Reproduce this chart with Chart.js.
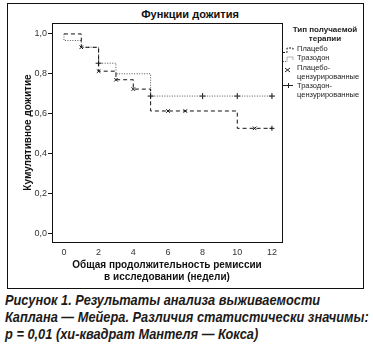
<!DOCTYPE html>
<html>
<head>
<meta charset="utf-8">
<script src="https://cdn.jsdelivr.net/npm/chart.js"></script>
<style>
body { margin: 0; background: white; font-family: "Liberation Sans", Arial, sans-serif; }
#frame {
  position: absolute; left: 7px; top: 3px; width: 357px; height: 286px;
  border: 1px solid #111; box-sizing: border-box;
}
#chart-box { position: absolute; left: 8px; top: 4px; width: 356px; height: 284px; }
#title {
  position: absolute; left: 136px; width: 108px; top: 8px; text-align: center;
  font-weight: bold; font-size: 11px; color: #111;
}
#legend { position: absolute; left: 283px; top: 25px; width: 80px; font-size: 7.5px; color: #222; }
#legend .head { text-align: center; font-weight: bold; font-size: 8px; line-height: 9px; margin-left: 4px; }
#legend .item { position: absolute; left: 14px; line-height: 8.5px; white-space: nowrap; }
#caption {
  position: absolute; left: 5px; top: 292px; width: 400px;
  font-weight: bold; font-style: italic; font-size: 14px; line-height: 17px; color: #1d1a18;
  white-space: nowrap; transform: scaleX(0.915); transform-origin: left top;
}
</style>
</head>
<body>
<div id="frame"></div>
<div id="title">Функции дожития</div>
<div id="chart-box"><canvas id="km"></canvas></div>
<div id="legend">
  <div class="head">Тип получаемой<br>терапии</div>
  <div class="item" style="top:20px">Плацебо</div>
  <div class="item" style="top:29px">Тразодон</div>
  <div class="item" style="top:39px">Плацебо-<br>цензурированные</div>
  <div class="item" style="top:57px">Тразодон-<br>цензурированные</div>
</div>
<div id="caption">Рисунок 1. Результаты анализа выживаемости<br>Каплана — Мейера. Различия статистически значимы:<br>p = 0,01 (хи-квадрат Мантеля — Кокса)</div>

<script>
// кривые Каплана-Мейера (недели, доля дожития)
const placeboWeeks = [0, 1, 2, 3, 4, 5, 10, 12];
const placeboSurv = [1.0, 0.933, 0.813, 0.77, 0.723, 0.613, 0.526, 0.526];
const trazodoneWeeks = [0, 0, 1, 2, 3, 5, 12];
const trazodoneSurv = [1.0, 0.967, 0.933, 0.853, 0.80, 0.688, 0.688];

// цензурированные наблюдения
const placeboCensWeeks = [1, 2, 3, 4, 6, 7, 11, 12];
const placeboCensSurv = [0.933, 0.813, 0.77, 0.723, 0.613, 0.613, 0.526, 0.526];
const trazodoneCensWeeks = [2, 5, 8, 10, 12];
const trazodoneCensSurv = [0.853, 0.688, 0.688, 0.688, 0.688];

const xTicks = [0, 2, 4, 6, 8, 10, 12];
const yTicks = [0, 0.2, 0.4, 0.6, 0.8, 1.0];

const toPts = (xs, ys) => xs.map((x, i) => ({ x: x, y: ys[i] }));

const framePlugin = {
  id: 'frame',
  afterDraw(chart) {
    const { ctx, chartArea: a } = chart;
    ctx.save();
    ctx.strokeStyle = '#111';
    ctx.lineWidth = 1;
    ctx.strokeRect(Math.round(a.left) + 0.5, Math.round(a.top) + 0.5, Math.round(a.right - a.left), Math.round(a.bottom - a.top));

    // значки легенды
    const lx = 275, ly = 44;
    ctx.lineWidth = 1;
    ctx.strokeStyle = '#111';
    ctx.setLineDash([2, 1.5]);
    ctx.beginPath();
    ctx.moveTo(lx, ly + 4.5); ctx.lineTo(lx + 4, ly + 4.5); ctx.lineTo(lx + 4, ly); ctx.lineTo(lx + 10, ly); ctx.lineTo(lx + 10, ly + 3);
    ctx.stroke();
    ctx.strokeStyle = '#666';
    ctx.setLineDash([1, 1]);
    ctx.beginPath();
    ctx.moveTo(lx, ly + 13.5); ctx.lineTo(lx + 4, ly + 13.5); ctx.lineTo(lx + 4, ly + 9); ctx.lineTo(lx + 10, ly + 9); ctx.lineTo(lx + 10, ly + 12);
    ctx.stroke();
    ctx.setLineDash([]);
    ctx.strokeStyle = '#222';
    ctx.beginPath();
    ctx.moveTo(lx + 2, ly + 20); ctx.lineTo(lx + 7, ly + 24);
    ctx.moveTo(lx + 7, ly + 20); ctx.lineTo(lx + 2, ly + 24);
    ctx.moveTo(lx, ly + 37.5); ctx.lineTo(lx + 10, ly + 37.5);
    ctx.moveTo(lx + 5.5, ly + 35); ctx.lineTo(lx + 5.5, ly + 40);
    ctx.stroke();
    ctx.restore();
  }
};

new Chart(document.getElementById('km'), {
  type: 'line',
  data: {
    datasets: [
      {
        label: 'Плацебо',
        data: toPts(placeboWeeks, placeboSurv),
        stepped: 'before',
        borderColor: '#111',
        borderWidth: 1,
        borderDash: [4, 3],
        pointRadius: 0,
        fill: false
      },
      {
        label: 'Тразодон',
        data: toPts(trazodoneWeeks, trazodoneSurv),
        stepped: 'before',
        borderColor: '#555',
        borderWidth: 1,
        borderDash: [1, 1.5],
        pointRadius: 0,
        fill: false
      },
      {
        label: 'Плацебо-цензурированные',
        data: toPts(placeboCensWeeks, placeboCensSurv),
        showLine: false,
        pointStyle: placeboCensWeeks.map((w, i) => i === placeboCensWeeks.length - 1 ? 'cross' : 'crossRot'),
        pointRadius: 2.5,
        borderColor: '#111',
        borderWidth: 1
      },
      {
        label: 'Тразодон-цензурированные',
        data: toPts(trazodoneCensWeeks, trazodoneCensSurv),
        showLine: false,
        pointStyle: 'cross',
        pointRadius: 3,
        borderColor: '#111',
        borderWidth: 1
      }
    ]
  },
  options: {
    responsive: true,
    maintainAspectRatio: false,
    animation: false,
    layout: { padding: { left: 0, right: 82, top: 19, bottom: 0 } },
    plugins: { legend: { display: false }, tooltip: { enabled: false }, title: { display: false } },
    scales: {
      x: {
        type: 'linear',
        min: -0.69,
        max: 12.58,
        afterBuildTicks: s => { s.ticks = xTicks.map(v => ({ value: v })); },
        afterFit: s => { s.height = 46; },
        grid: { display: false, drawTicks: false },
        border: { display: false },
        ticks: { padding: 5, color: '#333', font: { size: 9, family: 'Liberation Sans' } },
        title: {
          display: true,
          text: ['Общая продолжительность ремиссии', 'в исследовании (недели)'],
          color: '#111',
          font: { size: 10, weight: 'bold', family: 'Liberation Sans', lineHeight: 1.2 },
          padding: { top: 0, bottom: 5 }
        }
      },
      y: {
        type: 'linear',
        min: -0.045,
        max: 1.055,
        afterBuildTicks: s => { s.ticks = yTicks.map(v => ({ value: v })); },
        afterFit: s => { s.width = 44; },
        grid: { display: true, drawOnChartArea: false, drawTicks: true, tickLength: 4, color: '#111' },
        border: { display: false },
        ticks: {
          padding: 1,
          color: '#333',
          font: { size: 9, family: 'Liberation Sans' },
          callback: v => v.toFixed(1).replace('.', ',')
        },
        title: {
          display: true,
          text: 'Кумулятивное дожитие',
          color: '#111',
          font: { size: 10, weight: 'bold', family: 'Liberation Sans', lineHeight: 1.2 },
          padding: { top: 14, bottom: 0 }
        }
      }
    }
  },
  plugins: [framePlugin]
});
</script>
</body>
</html>
